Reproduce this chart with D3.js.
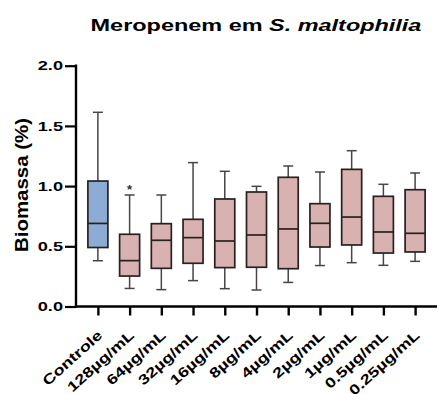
<!DOCTYPE html>
<html>
<head>
<meta charset="utf-8">
<script src="https://cdn.jsdelivr.net/npm/d3@7"></script>
<style>
  body { margin: 0; background: #fff; }
  text { font-family: "Liberation Sans", Arial, sans-serif; }
</style>
</head>
<body>
<div id="chart"></div>
<script>
// Box plot data
var groups = ["Controle", "128µg/mL", "64µg/mL", "32µg/mL", "16µg/mL", "8µg/mL",
              "4µg/mL", "2µg/mL", "1µg/mL", "0.5µg/mL", "0.25µg/mL"];
var whiskLow  = [0.38, 0.15, 0.14, 0.215, 0.148, 0.137, 0.20, 0.34, 0.364, 0.342, 0.375];
var q1        = [0.49, 0.253, 0.317, 0.359, 0.323, 0.326, 0.314, 0.494, 0.511, 0.444, 0.453];
var medians   = [0.69, 0.381, 0.55, 0.572, 0.544, 0.594, 0.644, 0.691, 0.743, 0.619, 0.608];
var q3        = [1.042, 0.60, 0.688, 0.724, 0.893, 0.951, 1.073, 0.854, 1.139, 0.915, 0.970];
var whiskHigh = [1.613, 0.926, 0.926, 1.195, 1.123, 0.998, 1.167, 1.117, 1.294, 1.015, 1.109];
var starred   = ["128µg/mL"];
var yTicks = [0, 0.5, 1.0, 1.5, 2.0];

var W = 438, H = 394;
var stretch = 1.38; // text in the picture is wider than tall
var svg = d3.select("#chart").append("svg").attr("width", W).attr("height", H);

var x = d3.scalePoint().domain(groups).range([76, 437]).padding(0.69);
var y = d3.scaleLinear().domain([0, 2]).range([306.5, 65.7]);
var boxW = 20;

var data = groups.map(function(g, i) {
  return {name: g, lo: whiskLow[i], q1: q1[i], med: medians[i], q3: q3[i], hi: whiskHigh[i]};
});

// title
var title = svg.append("text")
  .attr("transform", "translate(256,31) scale(" + stretch + ",1)")
  .attr("text-anchor", "middle").attr("font-size", 17).attr("font-weight", "bold");
title.append("tspan").text("Meropenem em ");
title.append("tspan").attr("font-style", "italic").text("S. maltophilia");

// y axis
var yAxis = svg.append("g").attr("transform", "translate(76,0)")
  .call(d3.axisLeft(y).tickValues(yTicks).tickFormat(d3.format(".1f")).tickSize(11).tickSizeOuter(0));
yAxis.select(".domain").attr("stroke-width", 2.4).attr("d", "M0," + (y(2) - 1.2) + "V" + (y(0) + 1));
yAxis.selectAll(".tick line").attr("stroke-width", 2.2);
yAxis.selectAll(".tick text").attr("font-size", 13.2).attr("font-weight", "bold")
  .attr("font-family", "Liberation Sans, Arial, sans-serif").attr("fill", "#000")
  .attr("x", 0).attr("transform", "translate(-13,0) scale(" + stretch + ",1)");

svg.append("text").attr("transform", "translate(28,185) rotate(-90)")
  .attr("text-anchor", "middle").attr("font-size", 17.5).attr("font-weight", "bold")
  .attr("textLength", 134).attr("lengthAdjust", "spacingAndGlyphs")
  .text("Biomassa (%)");

// x axis
var xAxis = svg.append("g").attr("transform", "translate(0," + y(0) + ")")
  .call(d3.axisBottom(x).tickSize(9).tickSizeOuter(0));
xAxis.select(".domain").attr("stroke-width", 2.4).attr("d", "M75,0H437");
xAxis.selectAll(".tick line").attr("stroke-width", 2.4);
xAxis.selectAll(".tick text").attr("font-size", 14).attr("font-weight", "bold")
  .attr("font-family", "Liberation Sans, Arial, sans-serif").attr("fill", "#000")
  .attr("text-anchor", "end").attr("dy", 0).attr("y", 0)
  .attr("transform", "translate(5,30) rotate(-42) scale(1.3,1)");

// boxes
var g = svg.append("g").selectAll("g").data(data).join("g");
var whisk = "#4a4444";

g.append("line").attr("x1", d => x(d.name)).attr("x2", d => x(d.name))
  .attr("y1", d => y(d.hi)).attr("y2", d => y(d.q3)).attr("stroke", whisk).attr("stroke-width", 1.5);
g.append("line").attr("x1", d => x(d.name)).attr("x2", d => x(d.name))
  .attr("y1", d => y(d.q1)).attr("y2", d => y(d.lo)).attr("stroke", whisk).attr("stroke-width", 1.5);
g.append("line").attr("x1", d => x(d.name) - 5).attr("x2", d => x(d.name) + 5)
  .attr("y1", d => y(d.hi)).attr("y2", d => y(d.hi)).attr("stroke", whisk).attr("stroke-width", 1.5);
g.append("line").attr("x1", d => x(d.name) - 5).attr("x2", d => x(d.name) + 5)
  .attr("y1", d => y(d.lo)).attr("y2", d => y(d.lo)).attr("stroke", whisk).attr("stroke-width", 1.5);

g.append("rect").attr("x", d => x(d.name) - boxW / 2).attr("width", boxW)
  .attr("y", d => y(d.q3)).attr("height", d => y(d.q1) - y(d.q3))
  .attr("fill", (d, i) => i == 0 ? "#8dacd5" : "#d8b1b1")
  .attr("stroke", "#2a2020").attr("stroke-width", 1.7);
g.append("line").attr("x1", d => x(d.name) - boxW / 2).attr("x2", d => x(d.name) + boxW / 2)
  .attr("y1", d => y(d.med)).attr("y2", d => y(d.med)).attr("stroke", "#2a2020").attr("stroke-width", 1.7);

// significance star
svg.selectAll(".star").data(data.filter(d => starred.indexOf(d.name) >= 0)).join("text")
  .attr("x", d => x(d.name)).attr("y", d => y(d.hi) - 1)
  .attr("text-anchor", "middle").attr("font-size", 13).attr("font-weight", "bold")
  .attr("fill", "#333").text("*");
</script>
</body>
</html>
